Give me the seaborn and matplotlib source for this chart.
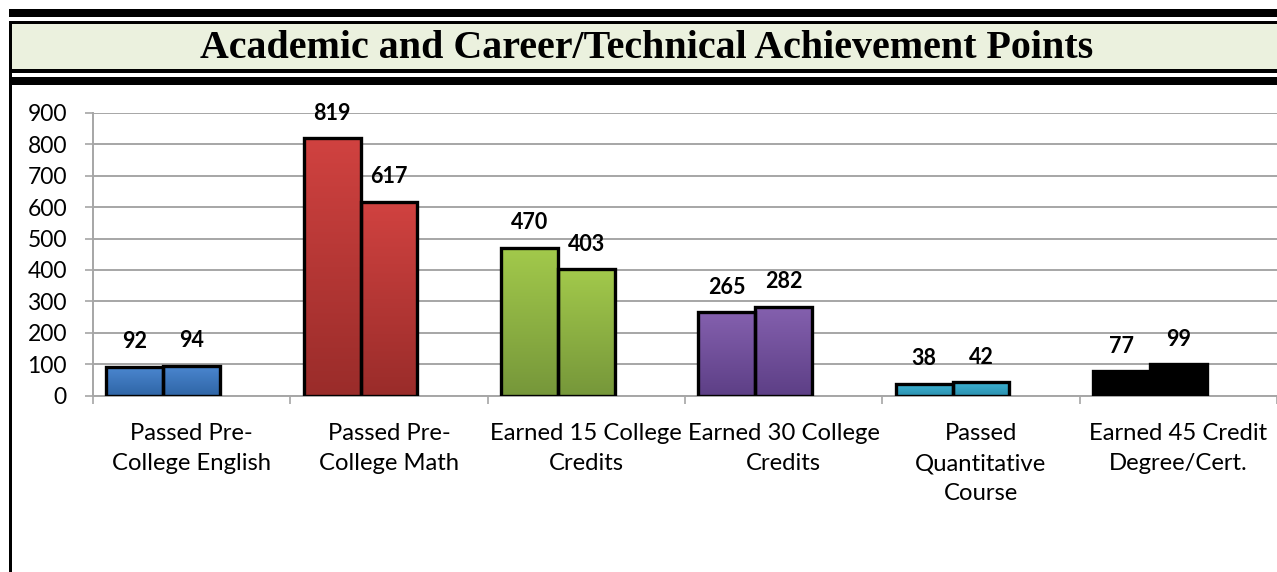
import numpy as np
import pandas as pd
import matplotlib
matplotlib.use("Agg")
import matplotlib.pyplot as plt
import seaborn as sns
from matplotlib.patches import Rectangle
from matplotlib.colors import to_rgb

# ---------------- data ----------------
categories = [
    "Passed Pre-\nCollege English",
    "Passed Pre-\nCollege Math",
    "Earned 15 College\nCredits",
    "Earned 30 College\nCredits",
    "Passed\nQuantitative\nCourse",
    "Earned 45 Credit\nDegree/Cert.",
]
series_1 = [92, 819, 470, 265, 38, 77]
series_2 = [94, 617, 403, 282, 42, 99]
series_names = ["Series 1", "Series 2", "Series 3"]  # third series is empty in the source chart
y_ticks = [0, 100, 200, 300, 400, 500, 600, 700, 800, 900]
title_text = "Academic and Career/Technical Achievement Points"

top_colors = ["#4a86cf", "#d04240", "#a2c94b", "#8460ae", "#3db2d3", "#000000"]
bottom_colors = ["#2f65a6", "#9a2c2a", "#76973a", "#5d3f86", "#2a90ae", "#000000"]

df = pd.DataFrame({
    "category": categories * 2,
    "series": [series_names[0]] * len(categories) + [series_names[1]] * len(categories),
    "value": series_1 + series_2,
})

# ---------------- figure ----------------
W, H = 1277, 572
DPI = 100
sns.set_theme(style="white")
plt.rcParams["font.family"] = ["Lato", "DejaVu Sans"]

fig = plt.figure(figsize=(W / DPI, H / DPI), dpi=DPI)
fig.patch.set_facecolor("white")

def fig_rect(x, y_top, w, h, color):
    fig.add_artist(Rectangle((x / W, 1 - (y_top + h) / H), w / W, h / H,
                             transform=fig.transFigure, facecolor=color,
                             edgecolor="none", zorder=0))

# header decoration
fig_rect(9, 9.5, W - 9, 7.5, "black")
fig_rect(9, 21, W - 9, 3.5, "black")
fig_rect(11, 24.5, W - 11, 44.5, "#ebf1de")
fig_rect(9, 69, W - 9, 4, "black")
fig_rect(9, 77, W - 9, 8, "black")
fig_rect(9, 21, 3, H - 21, "black")

# axes
ax_left, ax_right, ax_bottom, ax_top = 93, 1277, 395.5, 113
ax = fig.add_axes([ax_left / W, 1 - ax_bottom / H, (ax_right - ax_left) / W,
                   (ax_bottom - ax_top) / H])
ax.set_facecolor("none")

sns.barplot(data=df, x="category", y="value", hue="series", order=categories,
            hue_order=series_names, palette=["#888888"] * 3, width=0.866,
            errorbar=None, legend=False, ax=ax, saturation=1)

ax.set_ylim(0, 900)
ax.set_xlim(-0.5, len(categories) - 0.5)

gray = "#a6a6a6"
ax.set_yticks(y_ticks)
ax.yaxis.grid(True, color=gray, linewidth=1.4)
ax.xaxis.grid(False)
ax.set_axisbelow(True)
for s in ["top", "right"]:
    ax.spines[s].set_visible(False)
for s in ["left", "bottom"]:
    ax.spines[s].set_color(gray)
    ax.spines[s].set_linewidth(1.4)

ax.set_xlabel("")
ax.set_ylabel("")
ax.tick_params(axis="y", length=5.8, width=1.2, color=gray, pad=13,
               labelsize=16.5, labelcolor="black", left=True)
ax.set_xticks(range(len(categories)))
ax.set_xticklabels(categories, fontsize=17.2, linespacing=1.53)
ax.tick_params(axis="x", which="major", length=0, pad=20, labelcolor="black")
ax.set_xticks(np.arange(-0.5, len(categories), 1.0), minor=True)
ax.tick_params(axis="x", which="minor", length=5.8, width=1.2, color=gray,
               bottom=True)

# gradient fills + value labels
xl, yl = ax.get_xlim(), ax.get_ylim()
for p in list(ax.patches):
    h = p.get_height()
    if not np.isfinite(h) or h <= 0:
        continue
    x0, w = p.get_x(), p.get_width()
    ci = int(round(x0 + w / 2))
    top, bot = np.array(to_rgb(top_colors[ci])), np.array(to_rgb(bottom_colors[ci]))
    t = np.linspace(0, 1, 64)[:, None]
    grad = (top[None, :] * (1 - t) + bot[None, :] * t)[:, None, :]
    im = ax.imshow(grad, extent=[x0, x0 + w, 0, h], origin="upper",
                   aspect="auto", zorder=2, interpolation="bilinear")
    im.set_clip_path(p)
    p.set_facecolor("none")
    p.set_edgecolor("black")
    p.set_linewidth(2.4)
    p.set_zorder(3)
    p.set_joinstyle("miter")
    ax.annotate(f"{int(round(h))}", (x0 + w / 2, h), xytext=(0, 18),
                textcoords="offset points", ha="center", va="center",
                fontsize=15.5, fontweight="bold", color="black", zorder=4)
ax.set_xlim(xl)
ax.set_ylim(yl)

# title fitted to the reference width
title = fig.text(647 / W, 1 - 48 / H, title_text, ha="center", va="center",
                 fontsize=26, fontweight="bold", family=["Liberation Serif", "DejaVu Serif"],
                 color="black")
fig.canvas.draw()
bb = title.get_window_extent()
title.set_fontsize(26 * 894 / bb.width)

fig.savefig("out.png", dpi=DPI, facecolor="white")
